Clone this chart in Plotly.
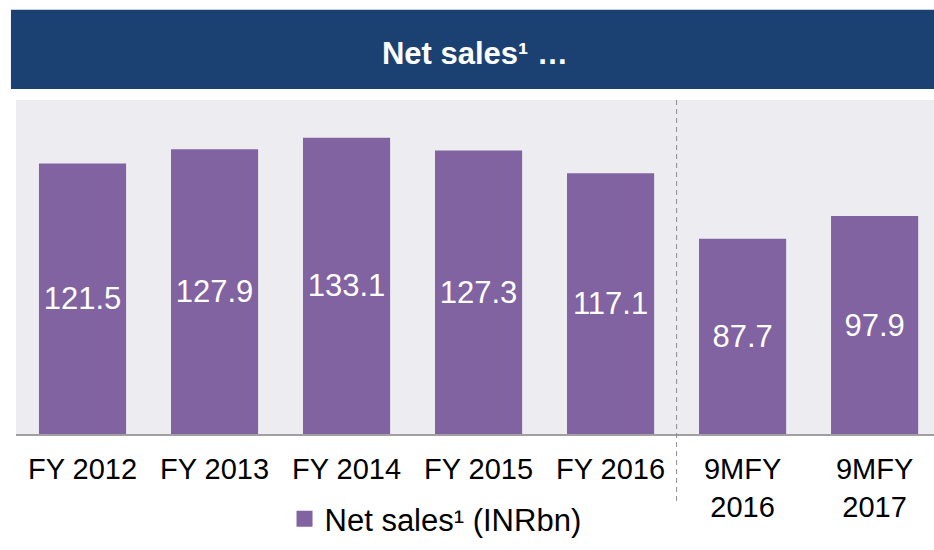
import plotly.graph_objects as go

categories = ["FY 2012", "FY 2013", "FY 2014", "FY 2015", "FY 2016", "9MFY<br>2016", "9MFY<br>2017"]
net_sales = [121.5, 127.9, 133.1, 127.3, 117.1, 87.7, 97.9]
value_labels = ["121.5", "127.9", "133.1", "127.3", "117.1", "87.7", "97.9"]
n_full_years = 5

FONT = "Liberation Sans, Arial, sans-serif"
PURPLE = "#8063A0"
NAVY = "#1B4173"

fig = go.Figure()
fig.add_trace(go.Bar(
    x=list(range(len(categories))), y=net_sales,
    text=value_labels, textposition="inside", insidetextanchor="middle",
    textfont=dict(family=FONT, size=31, color="white"),
    marker=dict(color=PURPLE, line=dict(width=0)),
    showlegend=False, cliponaxis=False, constraintext="none",
))
# legend entry
fig.add_trace(go.Scatter(
    x=[None], y=[None], mode="markers", name="Net sales¹ (INRbn)",
    marker=dict(symbol="square", size=17, color=PURPLE),
))

# separator between full years and nine-month periods
sep = n_full_years - 0.5
fig.add_shape(type="line", xref="x", yref="paper", x0=sep, x1=sep, y0=1.0, y1=-0.205,
              line=dict(color="#8C8C8C", width=1, dash="5px,4px"), layer="above")
# header band
fig.add_shape(type="rect", xref="paper", yref="paper", x0=-0.0055, x1=1.0, y0=1.033, y1=1.27,
              fillcolor=NAVY, line=dict(width=0), layer="below")

fig.update_layout(
    width=934, height=550,
    margin=dict(l=16, r=0, t=100, b=116),
    paper_bgcolor="white", plot_bgcolor="#EDEDF1",
    bargap=0.34,
    title=dict(text="<b>Net sales¹ …</b>", x=475/934, y=1-53/550, xanchor="center", yanchor="middle",
               xref="container", yref="container",
               font=dict(family=FONT, size=31, color="white")),
    xaxis=dict(tickmode="array", tickvals=list(range(len(categories))), ticktext=categories,
               range=[-0.504, 6.45], showgrid=False, zeroline=False,
               showline=True, linecolor="#A0A0A0", linewidth=2,
               ticks="outside", ticklen=8, tickcolor="rgba(0,0,0,0)",
               tickfont=dict(family=FONT, size=29, color="black")),
    yaxis=dict(range=[0, 150], visible=False, showgrid=False),
    legend=dict(orientation="h", x=0.457, xanchor="center", y=-0.2545, yanchor="middle",
                font=dict(family=FONT, size=31, color="black"), bgcolor="rgba(0,0,0,0)",
                itemclick=False),
    font=dict(family=FONT),
)

fig.write_html("out.html", config={"displayModeBar": False},
               post_script="document.body.style.margin='0';document.body.style.padding='0';")
